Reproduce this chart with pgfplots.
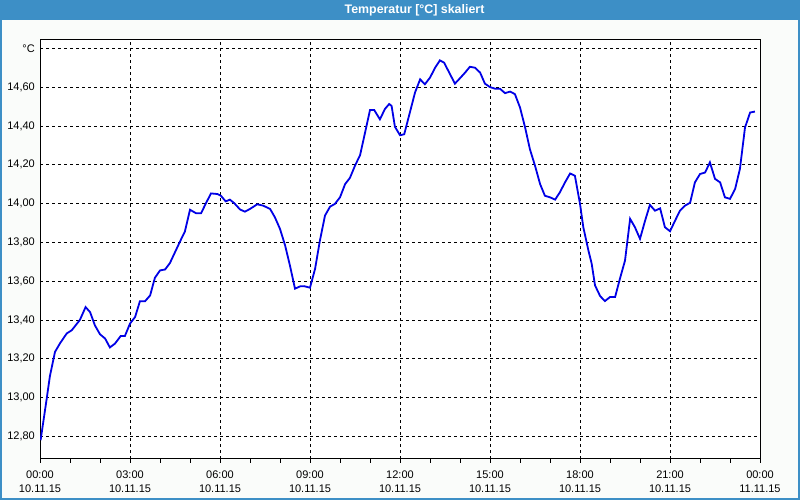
\documentclass[border=0pt]{standalone}
\usepackage{fontspec}
\setmainfont{Liberation Sans}
\usepackage{pgfplots}
\pgfplotsset{compat=1.18}
\definecolor{barblue}{RGB}{61,143,198}
\definecolor{bgpanel}{RGB}{250,252,250}
\definecolor{curveblue}{RGB}{0,0,230}
\begin{document}
\begin{tikzpicture}[x=1bp,y=1bp]
\path[use as bounding box] (0,0) rectangle (800,500);
\fill[bgpanel] (0,0) rectangle (800,500);
\fill[barblue] (0,480) rectangle (800,500);
\draw[barblue,line width=2bp] (1,480) -- (1,1) -- (798.5,1) -- (798.5,480);
\node[text=white,font=\bfseries\fontsize{12.4bp}{14bp}\selectfont] at (414.5,490) {Temperatur [°C] skaliert};
\begin{axis}[at={(40bp,41bp)}, anchor=south west, scale only axis,
  width=720bp, height=419bp,
  xmin=0, xmax=24, ymin=12.683, ymax=14.843,
  axis background/.style={fill=white},
  axis line style={line width=1bp},
  xtick={0,3,6,9,12,15,18,21,24},
  xticklabels={{00:00\\10.11.15},{03:00\\10.11.15},{06:00\\10.11.15},{09:00\\10.11.15},{12:00\\10.11.15},{15:00\\10.11.15},{18:00\\10.11.15},{21:00\\10.11.15},{00:00\\11.11.15}},
  minor x tick num=2,
  ytick={12.8,13.0,13.2,13.4,13.6,13.8,14.0,14.2,14.4,14.6,14.8},
  yticklabels={{12,80},{13,00},{13,20},{13,40},{13,60},{13,80},{14,00},{14,20},{14,40},{14,60},{°C}},
  grid=major,
  major grid style={black,line width=0.8bp,dash pattern=on 3bp off 3bp},
  tick align=outside, xtick pos=left,
  ytick style={draw=none},
  xtick style={black,line width=0.8bp},
  major tick length=4bp, minor tick length=4bp,
  tick label style={font=\fontsize{11bp}{13.5bp}\selectfont},
  xticklabel style={align=center,inner sep=0pt,anchor=north,yshift=-8bp},
  yticklabel style={inner sep=0pt,anchor=east,xshift=-1bp},
  /pgf/number format/assume math mode=true,
]
\addplot[curveblue,line width=1.8bp,sharp plot] coordinates {
(0.02,12.78) (0.22,12.99) (0.33,13.11) (0.50,13.235) (0.67,13.28) (0.89,13.33)
(1.06,13.347) (1.33,13.40) (1.52,13.466) (1.67,13.44) (1.83,13.372) (2.00,13.326)
(2.17,13.304) (2.33,13.258) (2.50,13.278) (2.69,13.317) (2.83,13.317) (3.00,13.381)
(3.17,13.415) (3.33,13.496) (3.50,13.496) (3.67,13.526) (3.83,13.617) (4.00,13.655)
(4.17,13.66) (4.33,13.693) (4.50,13.749) (4.67,13.805) (4.83,13.856) (5.00,13.968)
(5.20,13.95) (5.37,13.95) (5.53,14.001) (5.70,14.052) (5.91,14.049) (6.03,14.04)
(6.19,14.011) (6.33,14.02) (6.48,14.001) (6.67,13.969) (6.83,13.958) (7.00,13.972)
(7.24,13.996) (7.44,13.989) (7.67,13.972) (7.83,13.929) (8.00,13.869) (8.17,13.784)
(8.33,13.681) (8.50,13.561) (8.67,13.573) (8.80,13.574) (9.00,13.566) (9.17,13.664)
(9.33,13.809) (9.50,13.938) (9.67,13.984) (9.83,13.998) (10.00,14.032) (10.17,14.10)
(10.33,14.132) (10.50,14.195) (10.67,14.25) (10.83,14.362) (11.00,14.482) (11.14,14.482)
(11.33,14.434) (11.50,14.488) (11.64,14.513) (11.72,14.503) (11.83,14.396) (12.00,14.352)
(12.14,14.357) (12.33,14.47) (12.50,14.572) (12.67,14.64) (12.83,14.615) (13.00,14.649)
(13.17,14.70) (13.33,14.738) (13.47,14.726) (13.67,14.666) (13.83,14.618) (14.00,14.646)
(14.17,14.675) (14.33,14.705) (14.50,14.70) (14.67,14.675) (14.83,14.618) (15.00,14.60)
(15.17,14.592) (15.33,14.592) (15.50,14.569) (15.67,14.577) (15.83,14.564) (16.00,14.495)
(16.17,14.392) (16.33,14.28) (16.50,14.195) (16.67,14.10) (16.83,14.04) (17.00,14.032)
(17.17,14.02) (17.33,14.058) (17.50,14.109) (17.67,14.155) (17.83,14.143) (18.00,13.998)
(18.11,13.878) (18.28,13.758) (18.39,13.689) (18.50,13.578) (18.67,13.523) (18.83,13.497)
(19.00,13.518) (19.17,13.518) (19.33,13.612) (19.50,13.706) (19.67,13.921) (19.83,13.878)
(20.00,13.818) (20.17,13.912) (20.33,13.993) (20.50,13.963) (20.67,13.975) (20.83,13.878)
(21.00,13.857) (21.17,13.912) (21.33,13.963) (21.50,13.989) (21.67,14.004) (21.83,14.109)
(22.00,14.152) (22.17,14.16) (22.33,14.212) (22.50,14.127) (22.67,14.109) (22.83,14.032)
(23.00,14.024) (23.17,14.075) (23.33,14.178) (23.50,14.392) (23.67,14.469) (23.83,14.474)
};
\end{axis}
\end{tikzpicture}
\end{document}
